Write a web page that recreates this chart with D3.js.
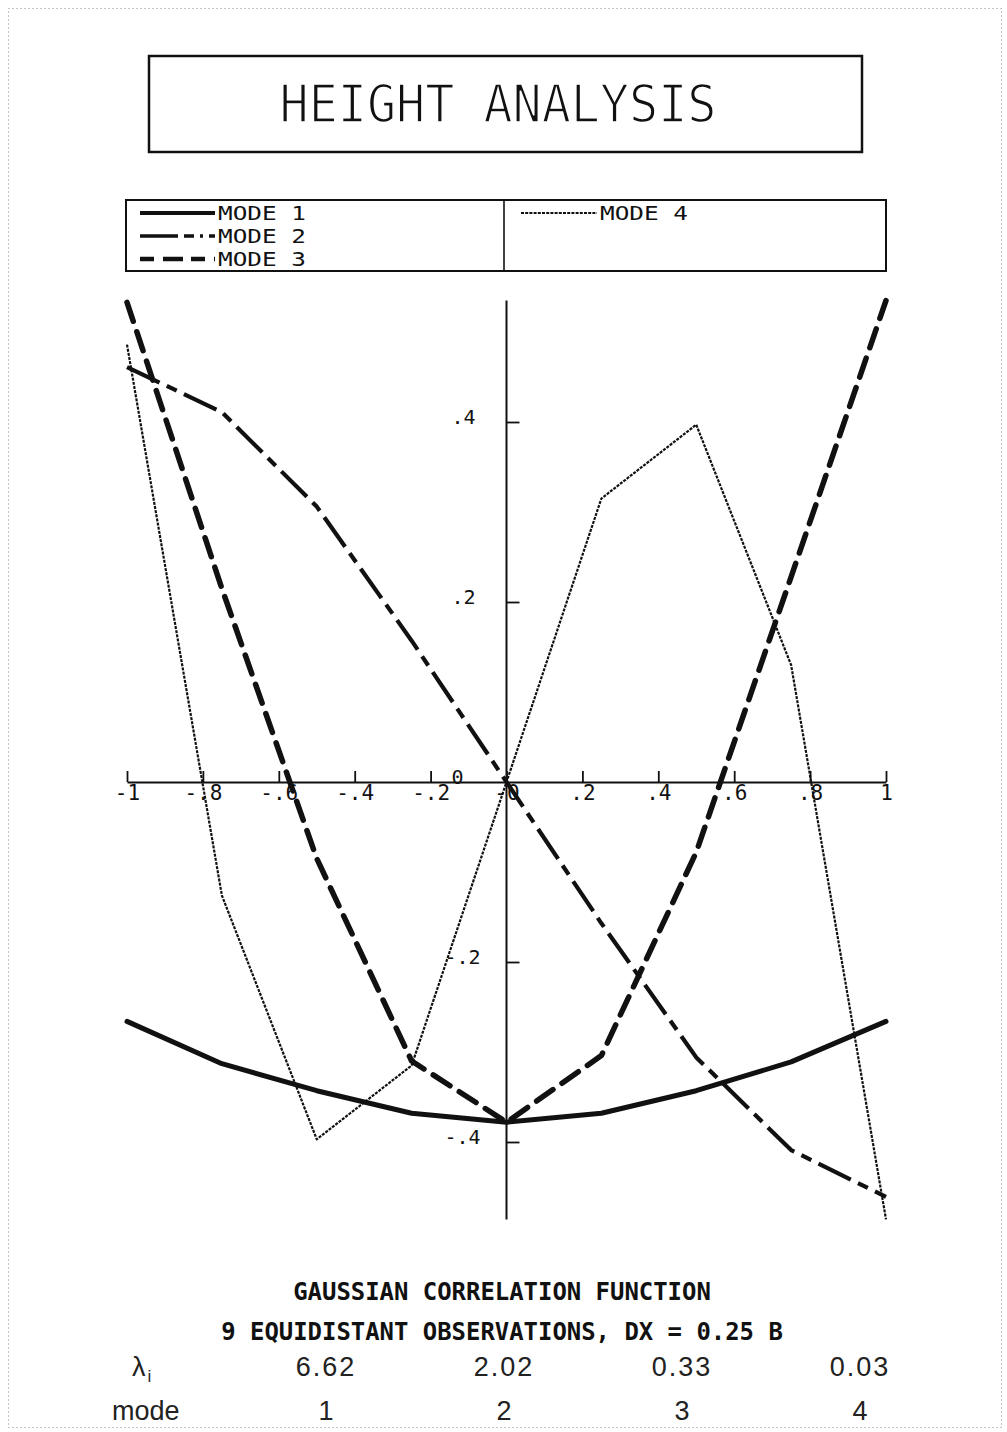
<!DOCTYPE html>
<html>
<head>
<meta charset="utf-8">
<title>Height Analysis</title>
<script src="https://cdn.jsdelivr.net/npm/d3@7"></script>
<style>
  html, body { margin: 0; padding: 0; background: #fff; }
  svg { display: block; }
  .plot-font { font-family: "DejaVu Sans Mono", monospace; }
</style>
</head>
<body>
<script>
// Observation abscissae (9 equidistant points, DX = 0.25)
const xValues = [-1, -0.75, -0.5, -0.25, 0, 0.25, 0.5, 0.75, 1];

// Eigenvector components for each mode
const mode1 = [-0.266, -0.313, -0.343, -0.368, -0.378, -0.368, -0.343, -0.311, -0.266];
const mode2 = [0.461, 0.411, 0.306, 0.157, 0, -0.157, -0.306, -0.409, -0.461];
const mode3 = [0.533, 0.215, -0.085, -0.31, -0.378, -0.304, -0.078, 0.228, 0.535];
const mode4 = [0.486, -0.126, -0.397, -0.315, 0, 0.315, 0.397, 0.13, -0.486];

const modeNames = ["MODE 1", "MODE 2", "MODE 3", "MODE 4"];

// Axis ticks and their printed labels
const xTicks = [-1, -0.8, -0.6, -0.4, -0.2, 0, 0.2, 0.4, 0.6, 0.8, 1];
const xTickLabels = ["-1", "-.8", "-.6", "-.4", "-.2", "-0", ".2", ".4", ".6", ".8", "1"];
const yTicks = [0.4, 0.2, 0, -0.2, -0.4];
const yTickLabels = [".4", ".2", "0", "-.2", "-.4"];

// Eigenvalue table
const modeNumbers = [1, 2, 3, 4];
const eigenvalues = ["6.62", "2.02", "0.33", "0.03"];

const captionLines = [
  "GAUSSIAN CORRELATION FUNCTION",
  "9 EQUIDISTANT OBSERVATIONS, DX = 0.25 B"
];

const W = 1007, H = 1432;
const svg = d3.select("body").append("svg")
  .attr("width", W).attr("height", H)
  .attr("viewBox", `0 0 ${W} ${H}`);

// dotted page frame
svg.append("rect")
  .attr("x", 8.5).attr("y", 8.5).attr("width", W - 14).attr("height", H - 13)
  .attr("fill", "none").attr("stroke", "#8a8a8a").attr("stroke-width", 1)
  .attr("stroke-dasharray", "1,3");

// ---- Title box ----
svg.append("rect")
  .attr("x", 149).attr("y", 56).attr("width", 713).attr("height", 96)
  .attr("fill", "none").attr("stroke", "#111").attr("stroke-width", 2.5);
// thin pen look: a white outline trims the glyph strokes
svg.append("text")
  .attr("class", "plot-font")
  .attr("x", 498).attr("y", 122)
  .attr("text-anchor", "middle")
  .attr("font-size", 51)
  .attr("textLength", 437).attr("lengthAdjust", "spacingAndGlyphs")
  .attr("fill", "#111")
  .attr("stroke", "#fff").attr("stroke-width", 1.6)
  .text("HEIGHT ANALYSIS");

// ---- Scales ----
const x = d3.scaleLinear().domain([-1, 1]).range([127, 886]);
const y = d3.scaleLinear().domain([-0.5, 0.5]).range([1232, 332]);

// Line styles for the four modes
const styles = [
  { width: 5, dash: null, cap: "round" },
  { width: 4.2, dash: "36,8,11,8", cap: "butt" },
  { width: 5.5, dash: "20,11", cap: "round" },
  { width: 2.2, dash: "3,1.2", cap: "butt" }
];
const modes = [mode1, mode2, mode3, mode4];

// ---- Legend ----
const legend = svg.append("g");
legend.append("rect")
  .attr("x", 126).attr("y", 200).attr("width", 760).attr("height", 71)
  .attr("fill", "none").attr("stroke", "#111").attr("stroke-width", 2);
legend.append("line")
  .attr("x1", 504).attr("x2", 504).attr("y1", 200).attr("y2", 271)
  .attr("stroke", "#111").attr("stroke-width", 1.6);

const legendPos = [
  { x0: 140, x1: 215, tx: 218, y: 213 },
  { x0: 140, x1: 215, tx: 218, y: 236 },
  { x0: 140, x1: 215, tx: 218, y: 259 },
  { x0: 521, x1: 597, tx: 600, y: 213 }
];
const legendItems = legend.selectAll("g.item").data(modeNames).join("g").attr("class", "item");
legendItems.append("line")
  .attr("x1", (d, i) => legendPos[i].x0).attr("x2", (d, i) => legendPos[i].x1)
  .attr("y1", (d, i) => legendPos[i].y).attr("y2", (d, i) => legendPos[i].y)
  .attr("stroke", "#111")
  .attr("stroke-width", (d, i) => styles[i].width * 0.8)
  .attr("stroke-dasharray", (d, i) => i === 1 ? "38,6,10,6,3,6" : i === 2 ? "14,9,20,8" : styles[i].dash);
legendItems.append("text")
  .attr("class", "plot-font")
  .attr("x", (d, i) => legendPos[i].tx)
  .attr("y", (d, i) => legendPos[i].y + 7)
  .attr("font-size", 19.5)
  .attr("textLength", 88).attr("lengthAdjust", "spacingAndGlyphs")
  .attr("fill", "#111")
  .text(d => d);

// ---- Axes ----
const x0 = y(0), y0 = x(0);

const xAxis = d3.axisBottom(x)
  .tickValues(xTicks)
  .tickFormat((d, i) => xTickLabels[i])
  .tickSizeInner(-11).tickSizeOuter(0).tickPadding(3);
const gx = svg.append("g").attr("transform", `translate(0,${x0})`).call(xAxis);
gx.select(".domain").attr("stroke", "#111").attr("stroke-width", 2);
gx.selectAll(".tick line").attr("stroke", "#111").attr("stroke-width", 1.8);
gx.selectAll(".tick text")
  .attr("font-size", 21).attr("fill", "#111")
  .attr("font-family", "DejaVu Sans Mono, monospace");

const allValues = modes.flat();
svg.append("line")
  .attr("x1", y0).attr("x2", y0)
  .attr("y1", y(d3.max(allValues))).attr("y2", y(d3.min(allValues)))
  .attr("stroke", "#111").attr("stroke-width", 2);

const yAxis = d3.axisLeft(y)
  .tickValues(yTicks)
  .tickFormat((d, i) => yTickLabels[i])
  .tickSizeInner(-13).tickSizeOuter(0).tickPadding(0);
const gy = svg.append("g").attr("transform", `translate(${y0},0)`).call(yAxis);
gy.select(".domain").remove();
gy.selectAll(".tick line").attr("stroke", "#111").attr("stroke-width", 1.8)
  .attr("opacity", d => d === 0 ? 0 : 1);
gy.selectAll(".tick text")
  .attr("font-family", "DejaVu Sans Mono, monospace").attr("font-size", 20).attr("fill", "#111")
  .attr("text-anchor", "start")
  .attr("x", d => d < 0 ? -62 : -55)
  .attr("dy", "0.05em");

// ---- Mode curves ----
const line = d3.line().x((d, i) => x(xValues[i])).y(d => y(d));
svg.append("g").selectAll("path").data(modes).join("path")
  .attr("d", line)
  .attr("fill", "none")
  .attr("stroke", "#111")
  .attr("stroke-width", (d, i) => styles[i].width)
  .attr("stroke-linejoin", "round")
  .attr("stroke-linecap", (d, i) => styles[i].cap)
  .attr("stroke-dasharray", (d, i) => styles[i].dash);

// ---- Captions ----
svg.append("g").selectAll("text").data(captionLines).join("text")
  .attr("font-family", "DejaVu Sans Mono, monospace")
  .attr("font-weight", "bold")
  .attr("font-size", 24)
  .attr("fill", "#111")
  .attr("text-anchor", "middle")
  .attr("x", 502)
  .attr("y", (d, i) => 1300 + i * 40)
  .attr("textLength", (d) => d.length * 14.4)
  .attr("lengthAdjust", "spacingAndGlyphs")
  .text(d => d);

// ---- Eigenvalue table ----
const col = d3.scalePoint().domain(modeNumbers).range([326, 860]);
const table = svg.append("g")
  .attr("font-family", "Liberation Sans, Arial, sans-serif")
  .attr("font-size", 27).attr("fill", "#222");

const lam = table.append("text").attr("x", 132).attr("y", 1376);
lam.append("tspan").text("λ");
lam.append("tspan").attr("font-size", 17).attr("dx", 2).attr("dy", 6).text("i");

table.selectAll("text.ev").data(eigenvalues).join("text").attr("class", "ev")
  .attr("x", (d, i) => col(modeNumbers[i]))
  .attr("y", 1376)
  .attr("text-anchor", "middle")
  .attr("letter-spacing", 2)
  .text(d => d);

table.append("text").attr("x", 112).attr("y", 1420).text("mode");
table.selectAll("text.mn").data(modeNumbers).join("text").attr("class", "mn")
  .attr("x", d => col(d))
  .attr("y", 1420)
  .attr("text-anchor", "middle")
  .text(d => d);
</script>
</body>
</html>
